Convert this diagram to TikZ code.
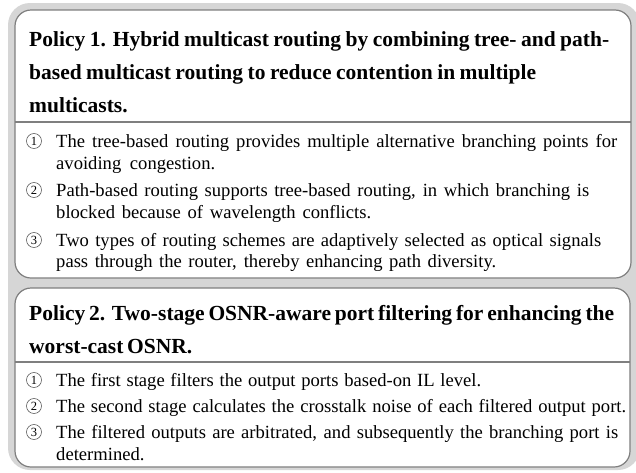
\documentclass[tikz,border=0pt]{standalone}
\usepackage{fontspec}
\setmainfont{Liberation Serif}
\definecolor{framegray}{HTML}{D6D6D6}
\definecolor{boxgray}{HTML}{7F7F7F}
% a line of text spread to a given width
\newcommand\spreadline[2]{\makebox[#1][s]{#2}}
\begin{document}
\begin{tikzpicture}[x=1pt,y=-1pt,
  panel/.style={draw=boxgray, line width=1.2pt, fill=white, rounded corners=16pt},
  rule/.style={draw=boxgray, line width=1.1pt},
  ttl/.style={anchor=base west, inner sep=0pt, font=\fontsize{21.5}{24}\selectfont\bfseries},
  txt/.style={anchor=base west, inner sep=0pt, font=\fontsize{18.6}{21}\selectfont},
  num/.style={circle, draw=black!70, line width=0.55pt, minimum size=15pt, inner sep=0pt,
              font=\fontsize{12.5}{12.5}\selectfont}]
\useasboundingbox (0,0) rectangle (636,472);

% grey backdrop behind both panels
\fill[framegray, rounded corners=22pt] (8,3) rectangle (640,470);

% ---- Policy 1 panel ----
\draw[panel] (15,10) rectangle (631,278);
\draw[rule] (15,122) -- (631,122);
\node[ttl] (p1t1) at (29,46) {\spreadline{580pt}{Policy 1. Hybrid multicast routing by combining tree- and path-}};
\node[ttl] (p1t2) at (29,79) {\spreadline{507pt}{based multicast routing to reduce contention in multiple}};
\node[ttl] (p1t3) at (29,112) {multicasts.};

\node[num] (p1n1) at (34,141) {1};
\node[txt] (p1a1) at (56,147) {\spreadline{561pt}{The tree-based routing provides multiple alternative branching points for}};
\node[txt] (p1a2) at (56,169) {\spreadline{159pt}{avoiding congestion.}};
\node[num] (p1n2) at (34,190) {2};
\node[txt] (p1b1) at (56,196) {\spreadline{533pt}{Path-based routing supports tree-based routing, in which branching is}};
\node[txt] (p1b2) at (56,218) {\spreadline{315pt}{blocked because of wavelength conflicts.}};
\node[num] (p1n3) at (34,240) {3};
\node[txt] (p1c1) at (56,246) {\spreadline{545pt}{Two types of routing schemes are adaptively selected as optical signals}};
\node[txt] (p1c2) at (56,267) {\spreadline{440pt}{pass through the router, thereby enhancing path diversity.}};

% ---- Policy 2 panel ----
\draw[panel] (15,288) rectangle (630,467);
\draw[rule] (15,362) -- (630,362);
\node[ttl] (p2t1) at (29,320) {\spreadline{585pt}{Policy 2. Two-stage OSNR-aware port filtering for enhancing the}};
\node[ttl] (p2t2) at (29,353) {\spreadline{163pt}{worst-cast OSNR.}};

\node[num] (p2n1) at (34,380) {1};
\node[txt] (p2a1) at (56,386) {\spreadline{425pt}{The first stage filters the output ports based-on IL level.}};
\node[num] (p2n2) at (34,406) {2};
\node[txt] (p2b1) at (56,412) {\spreadline{570pt}{The second stage calculates the crosstalk noise of each filtered output port.}};
\node[num] (p2n3) at (34,432) {3};
\node[txt] (p2c1) at (56,438) {\spreadline{562pt}{The filtered outputs are arbitrated, and subsequently the branching port is}};
\node[txt] (p2c2) at (56,460) {determined.};
\end{tikzpicture}
\end{document}
